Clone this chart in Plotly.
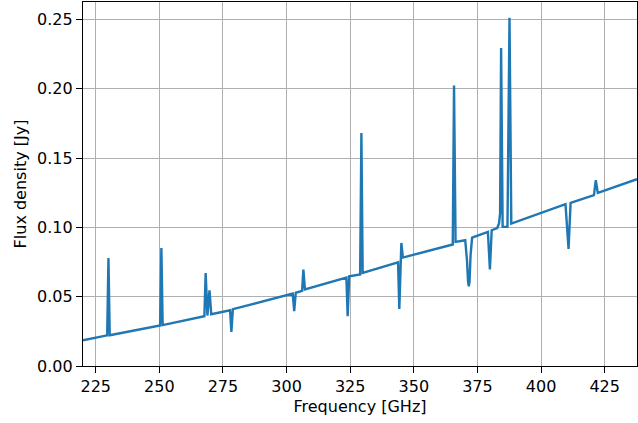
import plotly.graph_objects as go

# Frequency [GHz] and flux density [Jy]
freq = [220.0, 229.5, 230.0, 230.5,
        250.3, 250.8, 251.3,
        267.7, 268.2, 268.9, 269.7, 270.4,
        277.8, 278.3, 278.9,
        293.5, 302.4, 303.0, 303.6,
        306.1, 306.6, 307.2,
        323.5, 324.0, 324.6,
        328.9, 329.4, 329.9,
        343.8, 344.3, 345.1, 345.7,
        365.3, 365.8, 366.4, 370.2, 370.9, 371.3, 371.6, 371.9, 372.3, 372.9,
        379.1, 379.9, 380.6, 382.8, 383.5, 383.9, 384.3, 384.9, 386.8, 387.6, 388.3,
        409.6, 410.8, 411.6,
        420.8, 421.5, 422.3,
        437.7]
flux = [0.0185, 0.0221, 0.0779, 0.0222,
        0.0292, 0.0851, 0.0295,
        0.0359, 0.0671, 0.0364, 0.0546, 0.0373,
        0.0402, 0.0245, 0.0410,
        0.0479, 0.0522, 0.0395, 0.0528,
        0.0542, 0.0696, 0.0552,
        0.0638, 0.0359, 0.0647,
        0.0660, 0.1680, 0.0671,
        0.0748, 0.0411, 0.0887, 0.0782,
        0.0876, 0.2023, 0.0895, 0.0907, 0.0760, 0.0610, 0.0575, 0.0610, 0.0800, 0.0926,
        0.0967, 0.0696, 0.0979, 0.0995, 0.1030, 0.1100, 0.2294, 0.1003, 0.1003, 0.2511, 0.1027,
        0.1167, 0.0844, 0.1176,
        0.1232, 0.1340, 0.1248,
        0.1347]

x_ticks = [225, 250, 275, 300, 325, 350, 375, 400, 425]
y_ticks = [0.00, 0.05, 0.10, 0.15, 0.20, 0.25]

fig = go.Figure()
fig.add_trace(go.Scatter(x=freq, y=flux, mode="lines",
                         line=dict(color="#1f77b4", width=2.4), showlegend=False))

font = dict(family="DejaVu Sans", size=16, color="black")
axis_common = dict(showline=True, linecolor="black", linewidth=1.2, mirror=True,
                   ticks="outside", ticklen=6, tickcolor="black", tickwidth=1.2,
                   showgrid=True, gridcolor="#b0b0b0", gridwidth=1.2,
                   zeroline=False, tickfont=font)
fig.update_xaxes(range=[220.0, 437.7], tickvals=x_ticks,
                 ticktext=[str(v) for v in x_ticks],
                 title=dict(text="Frequency [GHz]", font=font, standoff=5),
                 **axis_common)
fig.update_yaxes(range=[0, 0.2625], tickvals=y_ticks,
                 ticktext=[f"{v:.2f}" for v in y_ticks],
                 title=dict(text="Flux density [Jy]", font=font, standoff=6),
                 **axis_common)
fig.update_layout(width=638, height=423, margin=dict(l=83, r=1, t=2, b=57),
                  plot_bgcolor="white", paper_bgcolor="white", font=font)
fig.write_html("out.html")
